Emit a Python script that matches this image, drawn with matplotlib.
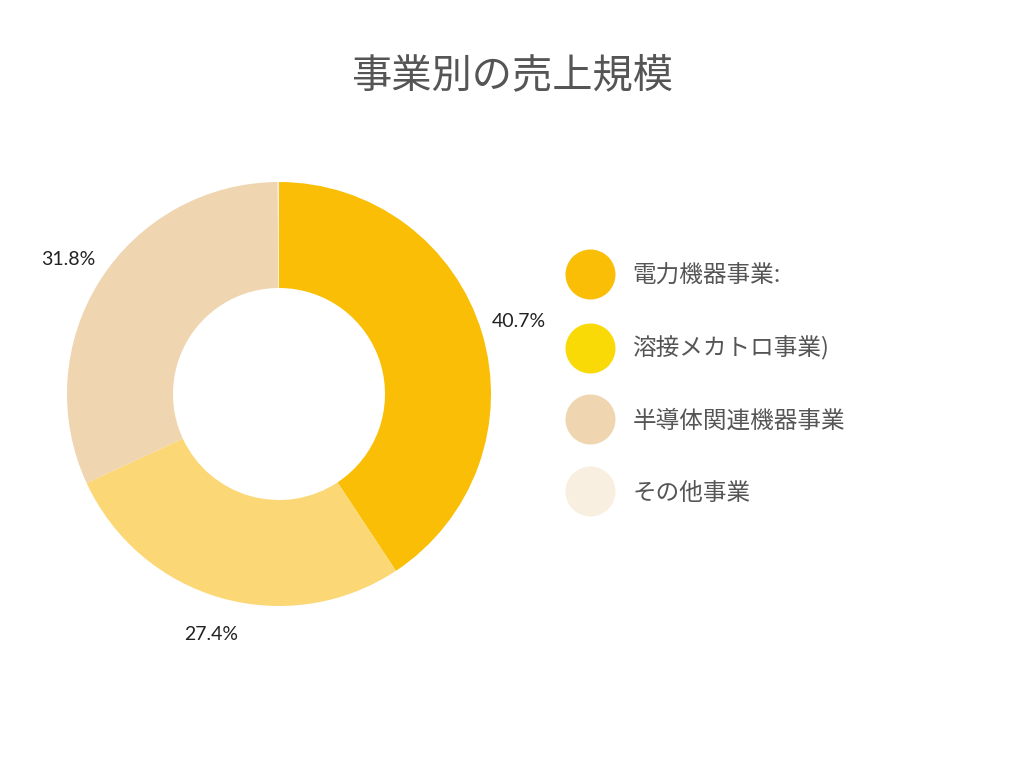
import matplotlib.pyplot as plt
from matplotlib.lines import Line2D

title = '事業別の売上規模'
segments = ['電力機器事業:', '溶接メカトロ事業)', '半導体関連機器事業', 'その他事業']
shares = [40.7, 27.4, 31.8, 0.1]
slice_colors = ['#F9BE05', '#FBD875', '#EFD5B0', '#F8EFE0']
legend_colors = ['#F9BE05', '#F9DA07', '#EFD5B0', '#F8EFE0']

jp = ['Noto Sans CJK JP', 'DejaVu Sans']

fig = plt.figure(figsize=(10.24, 7.68), dpi=100)
ax = fig.add_axes([67 / 1024, 162 / 768, 424 / 1024, 424 / 768])

def fmt(p):
    return f'{p:.1f}%' if p >= 1 else ''

wedges, texts, autotexts = ax.pie(
    shares, colors=slice_colors, startangle=90, counterclock=False,
    radius=1, autopct=fmt, pctdistance=1.18,
    wedgeprops=dict(width=0.5, linewidth=0),
    textprops=dict(family='Lato', fontsize=14, color='#222222'))
ax.set_xlim(-1, 1)
ax.set_ylim(-1, 1)
ax.set_aspect('equal')
ax.axis('off')

fig.text(0.5, 1 - 76 / 768, title, ha='center', va='center',
         fontsize=29, color='#555555', family=jp)

handles = [Line2D([], [], marker='o', linestyle='none', markersize=36,
                  markerfacecolor=c, markeredgewidth=0) for c in legend_colors]
leg = fig.legend(handles, segments, loc='upper left',
                 bbox_to_anchor=(562 / 1024, 1 - 255 / 768),
                 frameon=False, prop={'family': jp, 'size': 17},
                 labelspacing=2.07, handletextpad=0.98, handlelength=1.6,
                 borderaxespad=0)
for t in leg.get_texts():
    t.set_color('#555555')

fig.savefig('out.png', dpi=100)
